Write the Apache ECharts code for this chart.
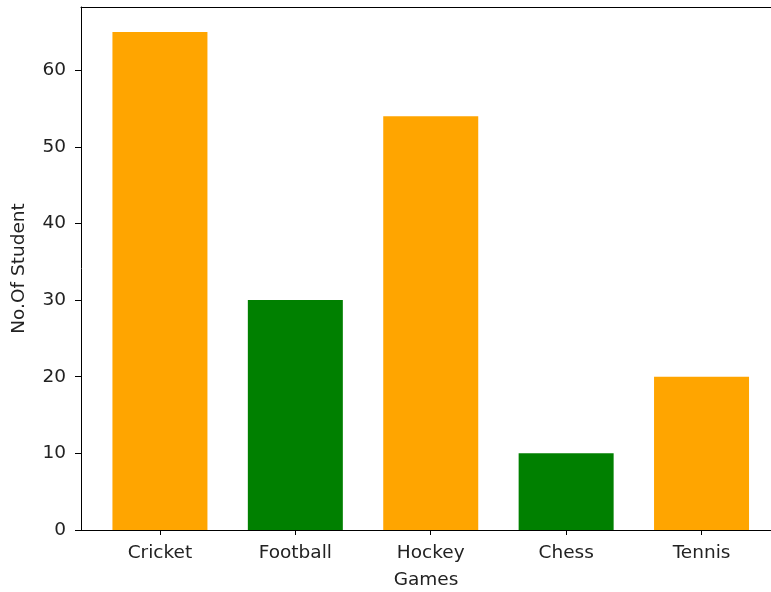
<!DOCTYPE html>
<html>
<head>
<meta charset="utf-8">
<script src="https://cdn.jsdelivr.net/npm/echarts@6/dist/echarts.min.js"></script>
<style>html,body{margin:0;padding:0;background:#fff;}#c{width:771px;height:592px;}</style>
</head>
<body>
<div id="c"></div>
<script>
const categories = ['Cricket', 'Football', 'Hockey', 'Chess', 'Tennis'];
const students = [65, 30, 54, 10, 20];
const yTicks = [0, 10, 20, 30, 40, 50, 60];
const barColors = ['#FFA500', '#008000', '#FFA500', '#008000', '#FFA500'];

const xTickValues = categories.map((_, i) => i);
const font = 'DejaVu Sans';
const txt = '#222';
const fs = 18.5;

const chart = echarts.init(document.getElementById('c'), null, {renderer: 'canvas'});
chart.setOption({
  animation: false,
  grid: {left: 81, right: 0, top: 7, bottom: 62, containLabel: false, outerBoundsMode: 'none'},
  xAxis: [{
    type: 'value',
    min: -0.583,
    max: 4.513,
    name: 'Games',
    nameLocation: 'middle',
    nameGap: 41,
    nameTextStyle: {fontFamily: font, fontSize: fs, color: txt},
    splitLine: {show: false},
    axisLine: {show: true, onZero: false, lineStyle: {color: '#000', width: 1}},
    axisTick: {show: true, inside: false, length: 5, customValues: xTickValues, lineStyle: {color: '#000'}},
    axisLabel: {show: true, margin: 14, customValues: xTickValues, fontFamily: font, fontSize: fs, color: txt,
      formatter: v => categories[Math.round(v)] || ''}
  }, {
    type: 'value', position: 'top', min: -0.583, max: 4.513,
    splitLine: {show: false}, axisTick: {show: false}, axisLabel: {show: false},
    axisLine: {show: true, onZero: false, lineStyle: {color: '#000', width: 1}}
  }],
  yAxis: {
    type: 'value',
    min: 0,
    max: 68.25,
    name: 'No.Of Student',
    nameLocation: 'middle',
    nameGap: 52,
    nameTextStyle: {fontFamily: font, fontSize: fs, color: txt},
    splitLine: {show: false},
    axisLine: {show: true, onZero: false, lineStyle: {color: '#000', width: 1}},
    axisTick: {show: true, inside: false, length: 6, customValues: yTicks, lineStyle: {color: '#000'}},
    axisLabel: {show: true, margin: 15, customValues: yTicks, fontFamily: font, fontSize: fs, color: txt}
  },
  series: [{
    type: 'bar',
    xAxisIndex: 0,
    barWidth: 95,
    data: students.map((v, i) => ({value: [i, v], itemStyle: {color: barColors[i]}}))
  }]
});
</script>
</body>
</html>
